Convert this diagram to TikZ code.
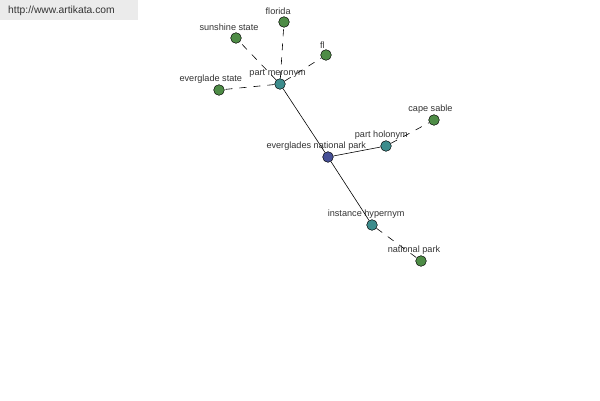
\documentclass[tikz,border=0pt]{standalone}
\usepackage{fontspec}
\setmainfont{Liberation Sans}
\usepackage{tikz}
\usetikzlibrary{calc}

\definecolor{leafgreen}{HTML}{4E8C46}
\definecolor{relteal}{HTML}{3C8C8C}
\definecolor{rootblue}{HTML}{465096}
\definecolor{lbltext}{HTML}{333333}
\definecolor{urlbox}{HTML}{EBEBEB}

\tikzset{
  dot/.style={circle, draw=black, line width=0.4pt, inner sep=0pt, minimum size=0.32cm},
  leaf/.style={dot, fill=leafgreen},
  rel/.style={dot, fill=relteal},
  root/.style={dot, fill=rootblue},
  lbl/.style={font=\fontsize{7.8}{9}\selectfont, text=lbltext, inner sep=1pt},
  every label/.style={lbl},
  label distance=0pt,
  solidlink/.style={draw=black, line width=0.5pt},
  dashlink/.style={draw=black, line width=0.5pt, dash pattern=on 6pt off 6pt},
}

\begin{document}
\begin{tikzpicture}[x=0.03cm, y=-0.03cm]
\useasboundingbox[fill=white] (0,0) rectangle (600,400);
\fill[urlbox] (0,0) rectangle (138,20);
\node[name=url, anchor=west, font=\fontsize{8.8}{10}\selectfont, text=lbltext, inner sep=0pt] at (8,10.5) {http://www.artikata.com};

\node[name=park, root, label={[xshift=-10]above:everglades national park}] at (328,157) {};
\node[name=meronym, rel, label={[xshift=-2]above:part meronym}] at (280,84) {};
\node[name=holonym, rel, label={[xshift=-4]above:part holonym}] at (386,146) {};
\node[name=hypernym, rel, label={[xshift=-5]above:instance hypernym}] at (372,225) {};
\node[name=florida, leaf, label={[xshift=-5]above:florida}] at (284,22) {};
\node[name=sunshine, leaf, label={[xshift=-6]above:sunshine state}] at (236,38) {};
\node[name=fl, leaf, label={[xshift=-3]above:fl}] at (326,55) {};
\node[name=everglade, leaf, label={[xshift=-7]above:everglade state}] at (219,90) {};
\node[name=capesable, leaf, label={[xshift=-3]above:cape sable}] at (434,120) {};
\node[name=natpark, leaf, label={[xshift=-6]above:national park}] at (421,261) {};

\draw[solidlink] (park) -- (meronym);
\draw[solidlink] (park) -- (holonym);
\draw[solidlink] (park) -- (hypernym);
\draw[dashlink] (meronym) -- (florida);
\draw[dashlink] (meronym) -- (sunshine);
\draw[dashlink] (meronym) -- (fl);
\draw[dashlink] (meronym) -- (everglade);
\draw[dashlink] (holonym) -- (capesable);
\draw[dashlink] (hypernym) -- (natpark);
\end{tikzpicture}
\end{document}
